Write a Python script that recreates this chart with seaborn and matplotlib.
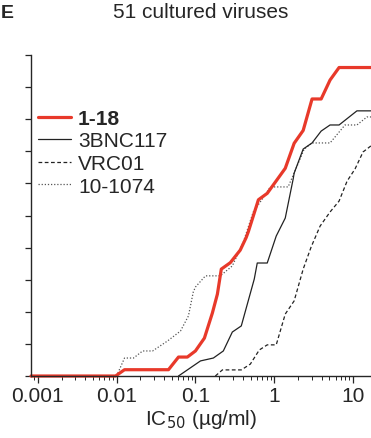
import matplotlib
matplotlib.use('Agg')
import matplotlib.pyplot as plt
import matplotlib.ticker as mticker
import seaborn as sns

# IC50 (ug/ml) vs cumulative % of 51 cultured viruses neutralized
x_118 = [0.00082, 0.0097, 0.0126, 0.0455, 0.061, 0.079, 0.1, 0.13, 0.164, 0.19, 0.213,
         0.277, 0.37, 0.44, 0.47, 0.63, 0.815, 1.38, 1.79, 2.33, 3.02, 3.94, 5.11, 6.65, 16.9]
y_118 = [0, 0, 1.96, 1.96, 5.9, 5.9, 7.8, 11.8, 19.6, 25.5, 33.3,
         35.3, 39.2, 43.1, 45.0, 54.9, 56.9, 64.7, 72.5, 76.5, 86.3, 86.3, 92.2, 96.1, 96.1]

x_3bnc = [0.061, 0.116, 0.169, 0.226, 0.294, 0.382, 0.558, 0.609, 0.815, 1.06, 1.38,
          1.74, 1.79, 2.33, 3.02, 3.94, 5.11, 6.65, 11.2, 16.9]
y_3bnc = [0, 4.7, 5.6, 7.8, 13.7, 15.6, 30.2, 35.2, 35.2, 43.6, 49.2,
          61.4, 63.2, 70.7, 72.6, 76.3, 78.2, 78.2, 82.6, 82.6]

x_vrc = [0.179, 0.22, 0.382, 0.497, 0.646, 0.815, 1.06, 1.38, 1.79, 2.33, 2.94,
         3.82, 5.11, 6.65, 8.4, 10.6, 13.4, 16.9]
y_vrc = [0, 1.9, 1.9, 3.7, 8.1, 9.7, 9.7, 19.3, 23.4, 33.3, 40.2,
         46.7, 51.1, 54.5, 60.7, 64.5, 69.8, 71.7]

x_1074 = [0.01, 0.0126, 0.0164, 0.0214, 0.0286, 0.0442, 0.0646, 0.0815, 0.094, 0.1,
          0.134, 0.207, 0.294, 0.405, 0.542, 0.705, 0.89, 1.5, 1.95, 2.4, 3.02, 5.11,
          7.9, 11.2, 15.0, 16.9]
y_1074 = [0, 5.6, 5.6, 7.8, 7.8, 10.9, 14.0, 18.7, 26.2, 27.7,
          31.2, 31.2, 34.3, 41.7, 51.1, 55.1, 58.9, 58.9, 65.4, 70.7, 72.6, 72.6,
          78.2, 78.2, 80.7, 80.7]

xticks = [0.001, 0.01, 0.1, 1, 10]

sns.set_style('ticks')
plt.rcParams['font.family'] = ['Liberation Sans', 'DejaVu Sans']

fig = plt.figure(figsize=(3.71, 4.39), dpi=100)
ax = fig.add_axes([31/371, 1-377/439, 340/371, 321/439])

sns.lineplot(x=x_1074, y=y_1074, ax=ax, color='#555555', lw=0.9, linestyle=(0, (1, 1.5)),
             estimator=None, sort=False, label='10-1074', clip_on=False)
sns.lineplot(x=x_vrc, y=y_vrc, ax=ax, color='#222222', lw=0.9, linestyle=(0, (3, 2)),
             estimator=None, sort=False, label='VRC01', clip_on=False)
sns.lineplot(x=x_3bnc, y=y_3bnc, ax=ax, color='#222222', lw=0.9,
             estimator=None, sort=False, label='3BNC117', clip_on=False)
sns.lineplot(x=x_118, y=y_118, ax=ax, color='#e8392a', lw=2.3,
             estimator=None, sort=False, label='1-18', clip_on=False)

ax.set_xscale('log')
ax.set_xlim(0.00082, 16.9)
ax.set_ylim(0, 100)
ax.set_xticks(xticks)
ax.xaxis.set_major_formatter(mticker.FuncFormatter(lambda v, p: f'{v:g}'))
ax.xaxis.set_minor_locator(mticker.LogLocator(base=10, subs=range(2, 10), numticks=20))
ax.set_yticks(range(0, 101, 10))
ax.set_yticklabels([])
ax.tick_params(axis='x', which='major', length=5, width=0.9, labelsize=15, pad=2)
ax.tick_params(axis='x', which='minor', length=3, width=0.7)
ax.tick_params(axis='y', length=4.5, width=0.9)
for s in ['left', 'bottom']:
    ax.spines[s].set_linewidth(1.0)
sns.despine(ax=ax)
ax.set_xlabel('IC$_{50}$ (µg/ml)', fontsize=15, labelpad=2)
ax.set_ylabel('')

h, l = ax.get_legend_handles_labels()
order = [3, 2, 1, 0]
leg = ax.legend([h[i] for i in order], [l[i] for i in order], loc='upper left',
                bbox_to_anchor=(0.02, 0.832), frameon=False, fontsize=15,
                handlelength=1.6, handletextpad=0.33, labelspacing=0.17,
                borderpad=0, borderaxespad=0)
leg.get_texts()[0].set_fontweight('bold')

fig.text(201/371, 1-13/439, '51 cultured viruses', ha='center', va='center', fontsize=15)
fig.text(0.5/371, 1-13/439, 'E', ha='left', va='center', fontsize=14, fontweight='bold')

fig.savefig('out.png', dpi=100)
